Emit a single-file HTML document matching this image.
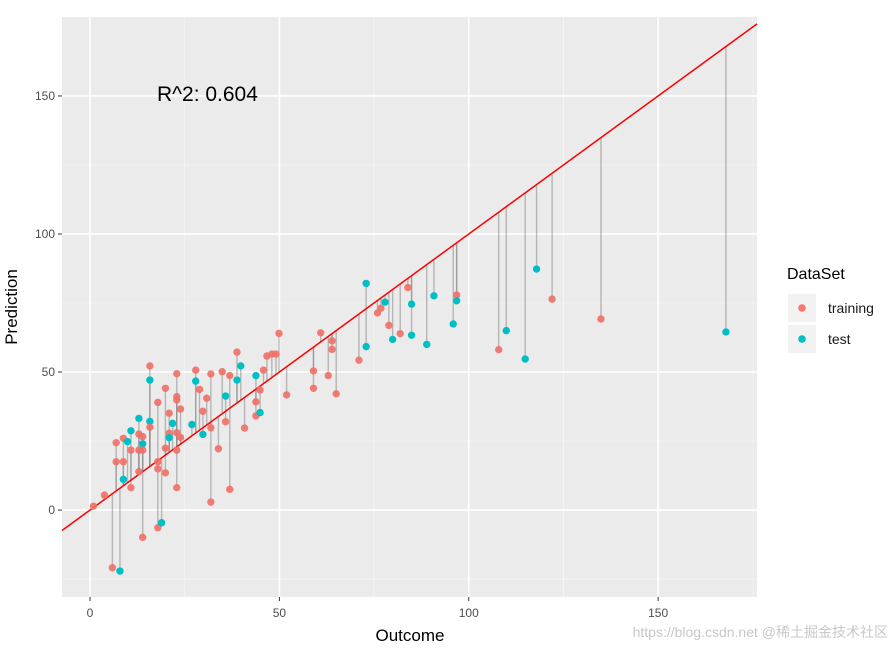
<!DOCTYPE html>
<html><head><meta charset="utf-8"><style>
body{margin:0;background:#fff;}
svg text{font-family:"Liberation Sans",sans-serif;}
</style></head><body>
<svg id="chart" width="893" height="648" xmlns="http://www.w3.org/2000/svg">
<rect x="62" y="17" width="695" height="580" fill="#EBEBEB"/>
<g id="grid"></g>
<g id="segs"></g>
<g id="line"></g>
<g id="pts"></g>
<g id="axes"></g>
<text x="157" y="101" font-size="21" fill="#000">R^2: 0.604</text>
<text x="410" y="641" font-size="17" text-anchor="middle" fill="#000">Outcome</text>
<text x="17" y="307" font-size="17" text-anchor="middle" fill="#000" transform="rotate(-90 17 307)">Prediction</text>
<g>
<text x="787" y="279" font-size="16" fill="#000">DataSet</text>
<g>
<rect x="788" y="294" width="28" height="28" fill="#F2F2F2"/>
<circle cx="802" cy="308" r="3.8" fill="#F8766D"/>
<text x="828" y="313" font-size="14" fill="#1a1a1a">training</text></g>
<g>
<rect x="788" y="325" width="28" height="28" fill="#F2F2F2"/>
<circle cx="802" cy="339" r="3.8" fill="#00BFC4"/>
<text x="828" y="344" font-size="14" fill="#1a1a1a">test</text></g>
</g>
<text x="888" y="637" font-size="14" text-anchor="end" fill="#c8c8c8">https://blog.csdn.net @稀土掘金技术社区</text>
</svg>
<script>
const outcome = [0.9,3.8,5.9,7.9,6.9,6.9,8.8,8.8,8.8,9.9,10.8,10.8,10.8,12.9,12.9,12.9,12.9,13.9,13.9,13.9,13.9,15.8,15.8,15.8,15.8,17.9,17.9,17.9,17.9,18.9,19.9,19.9,19.9,20.9,20.9,20.9,21.8,22.9,22.9,22.9,22.9,22.9,22.9,23.9,23.9,26.9,27.9,27.9,28.9,29.8,29.8,30.8,31.9,31.9,31.9,33.9,34.9,35.8,35.8,36.9,36.9,38.8,38.8,39.8,40.8,43.8,43.8,43.8,44.9,44.9,45.8,46.7,48.0,49.1,49.9,51.9,59.0,59.0,60.9,62.9,63.9,63.9,65.0,71.0,72.9,72.9,75.9,76.8,77.9,78.9,79.9,81.9,83.9,84.9,84.9,88.9,90.8,95.9,96.8,96.8,107.9,109.9,114.9,117.9,122.0,134.9,167.9];
const prediction = [1.4,5.4,-20.9,-22.1,24.4,17.5,17.5,26.0,11.1,24.8,28.7,21.7,8.1,33.2,27.5,21.7,13.9,24.0,26.6,21.7,-9.9,52.2,47.1,32.1,30.0,39.0,17.5,14.9,-6.4,-4.6,44.1,22.4,13.5,35.1,27.8,26.2,31.4,49.4,41.1,39.9,28.0,21.7,8.1,36.6,26.3,31.0,50.7,46.7,43.7,35.8,27.4,40.5,49.3,29.8,2.9,22.2,50.1,41.3,32.0,48.7,7.5,57.2,47.1,52.2,29.7,48.7,39.2,34.1,43.5,35.3,50.7,55.8,56.5,56.5,64.0,41.7,50.4,44.1,64.2,48.7,61.3,58.2,42.1,54.3,82.1,59.2,71.4,73.1,75.3,66.9,61.8,63.9,80.6,74.6,63.3,60.0,77.6,67.4,77.9,75.8,58.1,65.0,54.7,87.3,76.4,69.2,64.5];
const dataset = ["training","training","training","test","training","training","training","training","test","test","test","training","training","test","training","training","training","test","training","training","training","training","test","test","training","training","training","training","training","test","training","training","training","training","training","test","test","training","training","training","training","training","training","training","training","test","training","test","training","training","test","training","training","training","training","training","training","test","training","training","training","training","test","test","training","test","training","training","training","test","training","training","training","training","training","training","training","training","training","training","training","training","training","training","test","test","training","training","test","training","test","training","training","test","test","test","test","test","training","test","training","test","test","test","training","training","test"];
const xTicks = [0,50,100,150];
const yTicks = [0,50,100,150];
const xMinor = [25,75,125,175];
const yMinor = [-25,25,75,125];
const X0=62,X1=757,Y0=17,Y1=597;
const xmin=-7.4,xmax=176.1,ymin=-31.5,ymax=178.6;
function sx(v){return X0+(v-xmin)/(xmax-xmin)*(X1-X0);}
function sy(v){return Y1-(v-ymin)/(ymax-ymin)*(Y1-Y0);}
const NS="http://www.w3.org/2000/svg";
function mk(tag,attrs,parent){const e=document.createElementNS(NS,tag);for(const k in attrs)e.setAttribute(k,attrs[k]);parent.appendChild(e);return e;}
const grid=document.getElementById('grid');
xMinor.forEach(v=>{const l=mk('line',{x1:sx(v),x2:sx(v),y1:Y0,y2:Y1,stroke:'#F5F5F5','stroke-width':0.8},grid);

});
yMinor.forEach(v=>{const l=mk('line',{x1:X0,x2:X1,y1:sy(v),y2:sy(v),stroke:'#F5F5F5','stroke-width':0.8},grid);

});
const axes=document.getElementById('axes');
xTicks.forEach(v=>{const l=mk('line',{x1:sx(v),x2:sx(v),y1:Y0,y2:Y1,stroke:'#fff','stroke-width':1.6},grid);


mk('line',{x1:sx(v),x2:sx(v),y1:Y1,y2:Y1+4,stroke:'#333','stroke-width':1},axes);
const t=mk('text',{x:sx(v),y:Y1+20,'font-size':12,'text-anchor':'middle',fill:'#4D4D4D'},axes);t.textContent=v;

});
yTicks.forEach(v=>{const l=mk('line',{x1:X0,x2:X1,y1:sy(v),y2:sy(v),stroke:'#fff','stroke-width':1.6},grid);


mk('line',{x1:X0-4,x2:X0,y1:sy(v),y2:sy(v),stroke:'#333','stroke-width':1},axes);
const t=mk('text',{x:X0-7,y:sy(v)+4,'font-size':12,'text-anchor':'end',fill:'#4D4D4D'},axes);t.textContent=v;

});
const segs=document.getElementById('segs'),pts=document.getElementById('pts');
outcome.forEach((o,i)=>{
const s=mk('line',{x1:sx(o),x2:sx(o),y1:sy(o),y2:sy(prediction[i]),stroke:'#888','stroke-opacity':0.55,'stroke-width':1.4},segs);


const c=mk('circle',{cx:sx(o),cy:sy(prediction[i]),r:3.7,fill:dataset[i]==='test'?'#00BFC4':'#F07067','fill-opacity':dataset[i]==='test'?1:0.9},pts);

});
const ln=mk('line',{x1:sx(xmin),y1:sy(xmin),x2:sx(xmax),y2:sy(xmax),stroke:'#FF0000','stroke-width':1.5},document.getElementById('line'));


</script>
</body></html>
